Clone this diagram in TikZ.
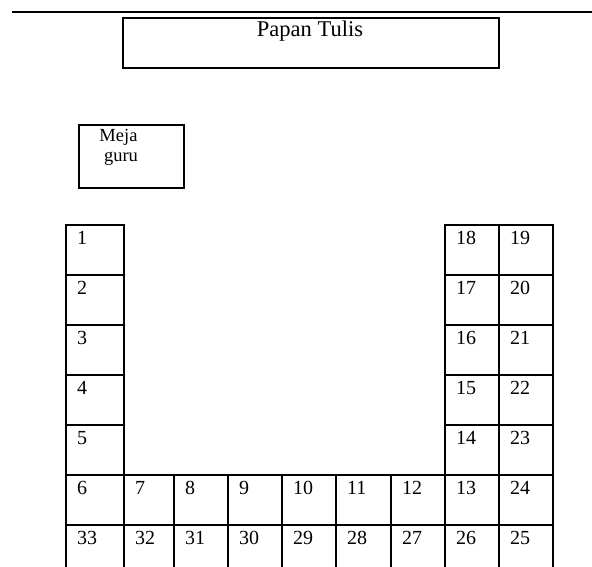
\documentclass[tikz,border=0pt]{standalone}
\usepackage{fontspec}
\setmainfont{Liberation Serif}
\begin{document}
\begin{tikzpicture}[x=1pt,y=-1pt,
  frame/.style={draw=black, line width=1.7pt, inner sep=0pt, anchor=north west},
  cellline/.style={draw=black, line width=1.6pt},
  num/.style={anchor=base west, inner sep=0pt, font=\fontsize{20}{22}\selectfont},
  bigtext/.style={anchor=base, inner sep=0pt, font=\fontsize{22.5}{24}\selectfont},
  smalltext/.style={anchor=base, inner sep=0pt, font=\fontsize{18.5}{20}\selectfont}]
\useasboundingbox (0,0) rectangle (592,567);
\clip (0,0) rectangle (592,567);
% top rule
\coordinate (ruleL) at (12,12);
\coordinate (ruleR) at (592,12);
\draw[line width=1.8pt] (ruleL) -- (ruleR);
% board
\node[frame, minimum width=376pt, minimum height=50pt] (papan) at (122,17) {};
\node[bigtext] (papantxt) at (310,37) {Papan Tulis};
% teacher desk
\node[frame, minimum width=105pt, minimum height=63pt] (meja) at (78,124) {};
\node[smalltext] (mejatxt) at (118.5,142) {Meja};
\node[smalltext] (gurutxt) at (121,162) {guru};
% seats
\foreach \n/\xa/\xb/\ya in {
  1/66/124/225, 2/66/124/275, 3/66/124/325, 4/66/124/375, 5/66/124/425, 6/66/124/475, 33/66/124/525,
  7/124/174/475, 8/174/228/475, 9/228/282/475, 10/282/336/475, 11/336/391/475, 12/391/445/475, 13/445/499/475, 24/499/553/475,
  32/124/174/525, 31/174/228/525, 30/228/282/525, 29/282/336/525, 28/336/391/525, 27/391/445/525, 26/445/499/525, 25/499/553/525,
  18/445/499/225, 17/445/499/275, 16/445/499/325, 15/445/499/375, 14/445/499/425,
  19/499/553/225, 20/499/553/275, 21/499/553/325, 22/499/553/375, 23/499/553/425}
{
  \draw[cellline] (\xa,\ya) rectangle (\xb,\ya+50);
  \node[num] (n\n) at (\xa+11,\ya+19.5) {\n};
}
\end{tikzpicture}
\end{document}
